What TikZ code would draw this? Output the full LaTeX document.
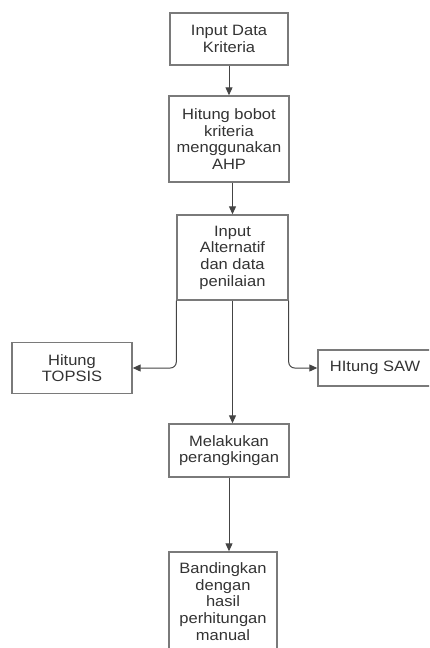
\documentclass[tikz,border=0pt]{standalone}
\usepackage{fontspec}
\setmainfont{Liberation Sans}[FakeStretch=1.1]
\usetikzlibrary{arrows.meta}
\definecolor{boxline}{HTML}{7A7A7A}
\definecolor{txt}{HTML}{333333}
\definecolor{conn}{HTML}{444444}
\tikzset{
  procbox/.style={draw=boxline, line width=1.4pt, fill=white, text=txt, align=center,
    inner sep=2pt, font=\fontsize{15}{16.7}\selectfont},
  flow/.style={draw=conn, line width=1pt, -{Triangle[length=8pt,width=7pt]}, rounded corners=6pt}
}
\begin{document}
\begin{tikzpicture}[x=1pt,y=-1pt]
\useasboundingbox (0,0) rectangle (429,648);
\clip (0,0) rectangle (429,648);
\node[procbox, minimum width=118pt, minimum height=52pt] (b1) at (229,39) {Input Data\\Kriteria};
\node[procbox, minimum width=120pt, minimum height=86pt] (b2) at (229,139) {Hitung bobot\\kriteria\\menggunakan\\AHP};
\node[procbox, minimum width=111pt, minimum height=85pt] (b3) at (232.5,257.5) {Input\\Alternatif\\dan data\\penilaian};
\node[procbox, minimum width=120pt, minimum height=51pt] (tp) at (72,368) {Hitung\\TOPSIS};
\node[procbox, minimum width=114pt, minimum height=36pt] (saw) at (375,368) {HItung SAW};
\node[procbox, minimum width=120pt, minimum height=53pt] (mel) at (229,450.5) {Melakukan\\perangkingan};
\node[procbox, minimum width=108pt, minimum height=99pt] (band) at (223,601.5) {Bandingkan\\dengan\\hasil\\perhitungan\\manual};
\draw[flow] (b1.south) -- (b2.north);
\draw[flow] (b3.north |- b2.south) -- (b3.north);
\draw[flow] (b3.south west) |- (tp.east);
\draw[flow] (b3.south east) |- (saw.west);
\draw[flow] (b3.south) -- (b3.south |- mel.north);
\draw[flow] (mel.south) -- (mel.south |- band.north);
\end{tikzpicture}
\end{document}
